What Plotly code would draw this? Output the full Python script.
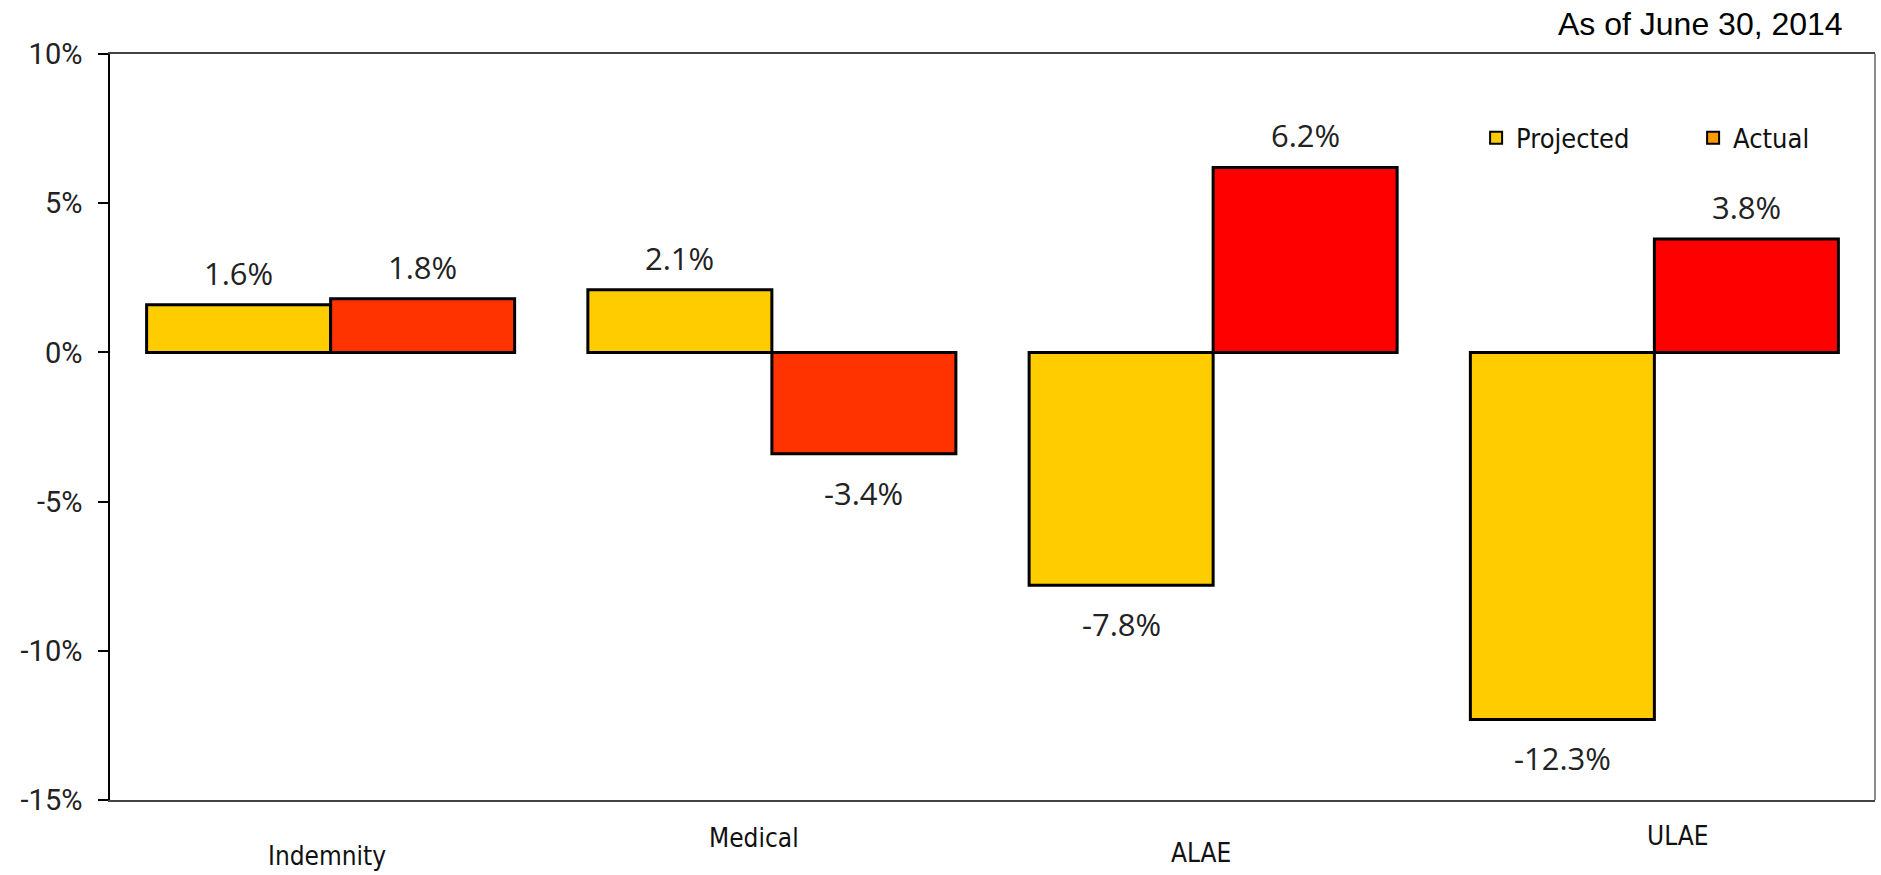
import plotly.graph_objects as go

categories = ["Indemnity", "Medical", "ALAE", "ULAE"]
projected = [1.6, 2.1, -7.8, -12.3]
actual = [1.8, -3.4, 6.2, 3.8]
series_names = ["Projected", "Actual"]
y_ticks = [-15, -10, -5, 0, 5, 10]
y_ticktext = [f"{v}%" for v in y_ticks]

PROJ_COLOR = "#FFCC00"
ACT_COLORS = ["#FF3300", "#FF3300", "#FF0000", "#FF0000"]
ACT_LEGEND = "#FF9900"

W, H = 1881, 875
ML, MR, MT, MB = 110, 6, 54, 75
PW = W - ML - MR
PH = H - MT - MB
BARGAP = 0.166
HALF = (1 - BARGAP) / 4  # offset of each bar center from category center
NARROW = "Liberation Sans Narrow, DejaVu Sans Condensed, Arial Narrow, sans-serif"

fig = go.Figure()
fig.add_trace(go.Bar(x=list(range(len(categories))), y=projected, name=series_names[0],
                     marker=dict(color=PROJ_COLOR, line=dict(color="black", width=3)),
                     showlegend=False))
fig.add_trace(go.Bar(x=list(range(len(categories))), y=actual, name=series_names[1],
                     marker=dict(color=ACT_COLORS, line=dict(color="black", width=3)),
                     showlegend=False))
# legend entries
for nm, col in zip(series_names, [PROJ_COLOR, ACT_LEGEND]):
    fig.add_trace(go.Scatter(x=[None], y=[None], mode="markers", name=nm,
                             marker=dict(symbol="square", size=16, color=col,
                                         line=dict(color="black", width=3))))

annotations = []
for vals, off in [(projected, -HALF), (actual, HALF)]:
    for i, v in enumerate(vals):
        annotations.append(dict(x=i + off, y=v, xref="x", yref="y",
                                text=f"{v:.1f}%", showarrow=False,
                                yanchor="middle", yshift=32 if v >= 0 else -39,
                                font=dict(family="Open Sans", size=31, color="#222")))

# category labels (staggered like the reference)
label_px = [327, 754, 1201, 1678]
label_py = [856, 838, 853, 836]
for c, px, py in zip(categories, label_px, label_py):
    annotations.append(dict(x=(px - ML) / PW, y=((H - MB) - py) / PH,
                            xref="paper", yref="paper", text=c, showarrow=False,
                            xanchor="center", yanchor="middle",
                            font=dict(family=NARROW, size=26, color="#111")))

annotations.append(dict(x=(1845 - ML) / PW, y=((H - MB) - 24) / PH, xref="paper", yref="paper",
                        xanchor="right", yanchor="middle", showarrow=False,
                        text="As of June 30, 2014",
                        font=dict(family="Liberation Sans", size=32, color="black")))

fig.update_layout(
    width=W, height=H,
    margin=dict(l=ML, r=MR, t=MT, b=MB, autoexpand=False),
    paper_bgcolor="white", plot_bgcolor="white",
    barmode="group", bargap=BARGAP, bargroupgap=0,
    xaxis=dict(range=[-0.5, len(categories) - 0.5], showticklabels=False, ticks="",
               showgrid=False, zeroline=False, showline=True, linecolor="#444",
               linewidth=1.5, mirror=True),
    yaxis=dict(range=[-15, 10], tickvals=y_ticks, ticktext=y_ticktext, ticks="outside",
               ticklen=10, tickcolor="black", tickwidth=1.5, showgrid=False, zeroline=False,
               showline=True, linecolor="black", linewidth=1.5,
               tickfont=dict(family="Roboto", size=29, color="#222"), ticklabelstandoff=10),
    legend=dict(orientation="h", x=0.774, y=0.887, xanchor="left", yanchor="middle",
                entrywidth=172, entrywidthmode="pixels", bgcolor="rgba(0,0,0,0)",
                font=dict(family=NARROW, size=27, color="#111"),
                itemsizing="constant"),
    annotations=annotations,
    shapes=[dict(type="line", xref="paper", yref="paper", x0=1, x1=1, y0=0, y1=1,
                 line=dict(color="#666", width=1.5))],
)

fig.write_html("out.html")
